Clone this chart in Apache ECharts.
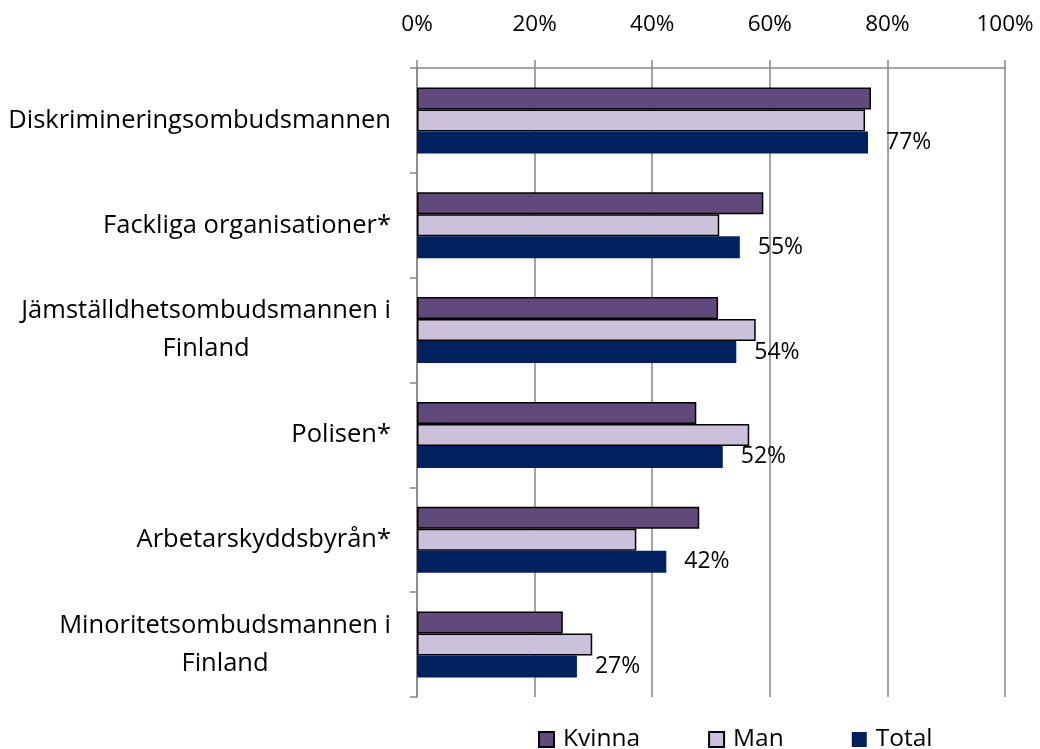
<!DOCTYPE html>
<html>
<head>
<meta charset="utf-8">
<script src="https://cdn.jsdelivr.net/npm/echarts@6/dist/echarts.min.js"></script>
<style>
html,body{margin:0;padding:0;background:#fff;}
#chart{width:1040px;height:749px;}
</style>
</head>
<body>
<div id="chart"></div>
<script>
const categories = [
  'Diskrimineringsombudsmannen',
  'Fackliga organisationer*',
  'Jämställdhetsombudsmannen i\nFinland',
  'Polisen*',
  'Arbetarskyddsbyrån*',
  'Minoritetsombudsmannen i\nFinland'
];
const kvinna = [77.2, 58.9, 51.2, 47.5, 48.0, 24.8];
const man = [76.2, 51.4, 57.6, 56.5, 37.3, 29.8];
const total = [76.7, 54.9, 54.3, 52.0, 42.4, 27.2];
const xTicks = [0, 20, 40, 60, 80, 100];

const FONT = '"Open Sans", Lato, sans-serif';
const chart = echarts.init(document.getElementById('chart'));
chart.setOption({
  backgroundColor: '#fff',
  animation: false,
  textStyle: {fontFamily: FONT, color: '#000'},
  grid: {left: 417, right: 35, top: 68, bottom: 52, containLabel: false},
  legend: {
    top: 722,
    left: 533,
    itemWidth: 15,
    itemHeight: 15,
    itemGap: 68,
    icon: 'rect',
    textStyle: {fontSize: 24.5, fontFamily: FONT, color: '#000', padding: [0, 0, 0, 4]},
    data: ['Kvinna', 'Man', 'Total']
  },
  xAxis: {
    type: 'value',
    position: 'top',
    min: xTicks[0],
    max: xTicks[xTicks.length - 1],
    interval: 20,
    axisLine: {show: true, lineStyle: {color: '#868686', width: 1.5}},
    axisTick: {show: true, length: 8, lineStyle: {color: '#868686', width: 1.5}},
    splitLine: {show: true, lineStyle: {color: '#868686', width: 1.5}},
    axisLabel: {fontSize: 22.5, color: '#000', margin: 32, formatter: v => v + '%'}
  },
  yAxis: {
    type: 'category',
    inverse: true,
    data: categories,
    axisLine: {show: true, lineStyle: {color: '#868686', width: 1.5}},
    axisTick: {show: true, length: 7, lineStyle: {color: '#868686', width: 1.5}},
    axisLabel: {
      fontSize: 25.5,
      color: '#000',
      margin: 26,
      lineHeight: 38,
      formatter: v => v.split('\n').map(s => '{a|' + s + '}').join('\n'),
      rich: {a: {fontSize: 25.5, lineHeight: 38, align: 'center', color: '#000', fontFamily: FONT}}
    }
  },
  series: [
    {
      name: 'Kvinna', type: 'bar', data: kvinna, barWidth: 22, barGap: '0%',
      itemStyle: {color: '#604A7B', borderColor: '#000', borderWidth: 1.5}
    },
    {
      name: 'Man', type: 'bar', data: man, barWidth: 22, barGap: '0%',
      itemStyle: {color: '#CCC1DA', borderColor: '#000', borderWidth: 1.5}
    },
    {
      name: 'Total', type: 'bar', data: total, barWidth: 22, barGap: '0%',
      itemStyle: {color: '#002060'},
      label: {show: true, position: 'right', distance: 18, fontSize: 23, color: '#000', fontFamily: FONT,
        formatter: p => Math.round(p.value) + '%'}
    }
  ]
});
</script>
</body>
</html>
